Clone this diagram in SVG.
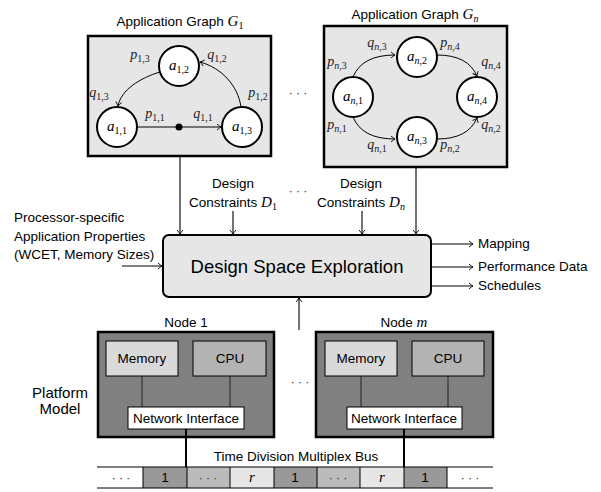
<svg xmlns="http://www.w3.org/2000/svg" width="601" height="492" viewBox="0 0 601 492">
<defs>
<marker id="ah" viewBox="-5 -4 6 8" markerWidth="6" markerHeight="8" refX="0" refY="0" orient="auto" markerUnits="userSpaceOnUse">
<path d="M-4,-3 Q-1.5,-0.8 0,0 Q-1.5,0.8 -4,3" fill="none" stroke="#000" stroke-width="0.9"/>
</marker>
<style>
text{font-family:"Liberation Sans","DejaVu Sans",sans-serif;fill:#000}
.t{font-size:13.5px}
.m{font-family:"Liberation Serif","DejaVu Serif",serif;font-style:italic;font-size:15px}
.s{font-style:normal;font-size:10px}
.si{font-style:italic}
.lbl{font-family:"Liberation Serif","DejaVu Serif",serif;font-style:italic;font-size:14px;fill:#222}
.gbox{fill:#e6e6e6;stroke:#000;stroke-width:2.5}
.circ{fill:#fff;stroke:#000;stroke-width:2}
.edge{fill:none;stroke:#000;stroke-width:1;marker-end:url(#ah)}
.conn{fill:none;stroke:#000;stroke-width:1.1;marker-end:url(#ah)}
.nbox{fill:#808080;stroke:#000;stroke-width:2.5}
.mem{fill:#d9d9d9;stroke:#000;stroke-width:1}
.cpu{fill:#b3b3b3;stroke:#000;stroke-width:1}
.ni{fill:#fff;stroke:#000;stroke-width:1}
.il{stroke:#222;stroke-width:1}
.dots{font-size:12px;fill:#333}
</style>
</defs>

<!-- Application graph G1 -->
<g id="graph1">
<text class="t" x="180" y="26" text-anchor="middle">Application Graph <tspan class="m">G<tspan class="s" dy="3">1</tspan></tspan></text>
<rect class="gbox" x="88" y="36" width="183" height="120"/>
<path class="edge" d="M160,72 C140,78 121,90 118,106"/>
<path class="edge" d="M241,107 C238,86 222,68 200,62"/>
<line x1="137" y1="127" x2="221" y2="127" class="edge"/>
<circle cx="179" cy="127" r="3.5" fill="#000"/>
<g id="a12"><circle class="circ" cx="179" cy="66" r="20"/><text class="m" x="179" y="70" text-anchor="middle">a<tspan class="s" dy="3">1,2</tspan></text></g>
<g id="a11"><circle class="circ" cx="117" cy="127" r="20"/><text class="m" x="117" y="131" text-anchor="middle">a<tspan class="s" dy="3">1,1</tspan></text></g>
<g id="a13"><circle class="circ" cx="242" cy="127" r="20"/><text class="m" x="242" y="131" text-anchor="middle">a<tspan class="s" dy="3">1,3</tspan></text></g>
<text class="lbl" x="140" y="59" text-anchor="middle">p<tspan class="s" dy="3">1,3</tspan></text>
<text class="lbl" x="217" y="59" text-anchor="middle">q<tspan class="s" dy="3">1,2</tspan></text>
<text class="lbl" x="99" y="97" text-anchor="middle">q<tspan class="s" dy="3">1,3</tspan></text>
<text class="lbl" x="258" y="97" text-anchor="middle">p<tspan class="s" dy="3">1,2</tspan></text>
<text class="lbl" x="155" y="118" text-anchor="middle">p<tspan class="s" dy="3">1,1</tspan></text>
<text class="lbl" x="203" y="118" text-anchor="middle">q<tspan class="s" dy="3">1,1</tspan></text>
</g>

<text class="dots" x="298" y="97" text-anchor="middle">· · ·</text>

<!-- Application graph Gn -->
<g id="graphn">
<text class="t" x="415" y="19" text-anchor="middle">Application Graph <tspan class="m">G<tspan class="s si" dy="3">n</tspan></tspan></text>
<rect class="gbox" x="324" y="26" width="183" height="141"/>
<path class="edge" d="M353,77 Q362,55 395,55"/>
<path class="edge" d="M437,55 Q468,55 477,76"/>
<path class="edge" d="M353,117 Q362,139 395,139"/>
<path class="edge" d="M437,139 Q468,139 477,118"/>
<g id="an1"><circle class="circ" cx="353" cy="97" r="20"/><text class="m" x="353" y="101" text-anchor="middle">a<tspan class="s" dy="3"><tspan class="si">n</tspan>,1</tspan></text></g>
<g id="an2"><circle class="circ" cx="417" cy="57" r="20"/><text class="m" x="417" y="61" text-anchor="middle">a<tspan class="s" dy="3"><tspan class="si">n</tspan>,2</tspan></text></g>
<g id="an3"><circle class="circ" cx="417" cy="137" r="20"/><text class="m" x="417" y="141" text-anchor="middle">a<tspan class="s" dy="3"><tspan class="si">n</tspan>,3</tspan></text></g>
<g id="an4"><circle class="circ" cx="477" cy="97" r="20"/><text class="m" x="477" y="101" text-anchor="middle">a<tspan class="s" dy="3"><tspan class="si">n</tspan>,4</tspan></text></g>
<text class="lbl" x="377" y="47" text-anchor="middle">q<tspan class="s" dy="3"><tspan class="si">n</tspan>,3</tspan></text>
<text class="lbl" x="450" y="47" text-anchor="middle">p<tspan class="s" dy="3"><tspan class="si">n</tspan>,4</tspan></text>
<text class="lbl" x="337" y="66" text-anchor="middle">p<tspan class="s" dy="3"><tspan class="si">n</tspan>,3</tspan></text>
<text class="lbl" x="491" y="66" text-anchor="middle">q<tspan class="s" dy="3"><tspan class="si">n</tspan>,4</tspan></text>
<text class="lbl" x="337" y="129" text-anchor="middle">p<tspan class="s" dy="3"><tspan class="si">n</tspan>,1</tspan></text>
<text class="lbl" x="491" y="129" text-anchor="middle">q<tspan class="s" dy="3"><tspan class="si">n</tspan>,2</tspan></text>
<text class="lbl" x="377" y="149" text-anchor="middle">q<tspan class="s" dy="3"><tspan class="si">n</tspan>,1</tspan></text>
<text class="lbl" x="450" y="149" text-anchor="middle">p<tspan class="s" dy="3"><tspan class="si">n</tspan>,2</tspan></text>
</g>

<!-- Inputs -->
<g id="dc1">
<text class="t" x="233" y="188" text-anchor="middle">Design</text>
<text class="t" x="233" y="207" text-anchor="middle">Constraints <tspan class="m">D<tspan class="s" dy="3">1</tspan></tspan></text>
</g>
<text class="dots" x="298" y="195" text-anchor="middle">· · ·</text>
<g id="dcn">
<text class="t" x="361" y="188" text-anchor="middle">Design</text>
<text class="t" x="361" y="207" text-anchor="middle">Constraints <tspan class="m">D<tspan class="s si" dy="3">n</tspan></tspan></text>
</g>
<g id="proc">
<text class="t" x="14" y="222">Processor-specific</text>
<text class="t" x="14" y="240.5">Application Properties</text>
<text class="t" x="14" y="259">(WCET, Memory Sizes)</text>
</g>

<!-- DSE -->
<g id="dse">
<rect x="163" y="235" width="268" height="62" rx="6" fill="#e6e6e6" stroke="#000" stroke-width="2"/>
<text x="297" y="273" text-anchor="middle" font-size="18.5">Design Space Exploration</text>
</g>

<!-- Outputs -->
<g id="outputs">
<text class="t" x="478" y="248">Mapping</text>
<text class="t" x="478" y="271">Performance Data</text>
<text class="t" x="478" y="290">Schedules</text>
</g>

<!-- Platform -->
<text x="60" y="398" text-anchor="middle" font-size="15">Platform</text>
<text x="60" y="414" text-anchor="middle" font-size="15">Model</text>

<g id="node1">
<text class="t" x="186" y="327" text-anchor="middle">Node 1</text>
<rect class="nbox" x="98" y="332" width="176" height="105"/>
<line class="il" x1="142" y1="376" x2="142" y2="407"/>
<line class="il" x1="230" y1="376" x2="230" y2="407"/>
<rect class="mem" x="106" y="341" width="72" height="35"/>
<text class="t" x="142" y="363" text-anchor="middle">Memory</text>
<rect class="cpu" x="193" y="341" width="73" height="35"/>
<text class="t" x="230" y="363" text-anchor="middle">CPU</text>
<rect class="ni" x="128" y="407" width="116" height="22"/>
<text class="t" x="186" y="423" text-anchor="middle">Network Interface</text>
</g>

<text class="dots" x="300" y="386" text-anchor="middle">· · ·</text>

<g id="nodem">
<text class="t" x="404" y="327" text-anchor="middle">Node <tspan class="m">m</tspan></text>
<rect class="nbox" x="316" y="332" width="177" height="105"/>
<line class="il" x1="361" y1="376" x2="361" y2="407"/>
<line class="il" x1="448" y1="376" x2="448" y2="407"/>
<rect class="mem" x="325" y="341" width="72" height="35"/>
<text class="t" x="361" y="363" text-anchor="middle">Memory</text>
<rect class="cpu" x="412" y="341" width="72" height="35"/>
<text class="t" x="448" y="363" text-anchor="middle">CPU</text>
<rect class="ni" x="347" y="407" width="115" height="22"/>
<text class="t" x="404" y="423" text-anchor="middle">Network Interface</text>
</g>

<!-- Bus -->
<g id="bus">
<text class="t" x="296" y="461" text-anchor="middle">Time Division Multiplex Bus</text>
<rect x="99" y="467" width="44" height="21" fill="#fff"/>
<rect x="143" y="467" width="44" height="21" fill="#999"/>
<rect x="187" y="467" width="43" height="21" fill="#bbb"/>
<rect x="230" y="467" width="44" height="21" fill="#e6e6e6"/>
<rect x="274" y="467" width="43" height="21" fill="#999"/>
<rect x="317" y="467" width="43" height="21" fill="#bbb"/>
<rect x="360" y="467" width="44" height="21" fill="#e6e6e6"/>
<rect x="404" y="467" width="43" height="21" fill="#999"/>
<rect x="447" y="467" width="46" height="21" fill="#fff"/>
<line x1="97" y1="467" x2="493" y2="467" stroke="#000" stroke-width="1"/>
<line x1="97" y1="488" x2="493" y2="488" stroke="#000" stroke-width="1"/>
<g stroke="#000" stroke-width="1">
<line x1="143" y1="467" x2="143" y2="488"/><line x1="187" y1="467" x2="187" y2="488"/>
<line x1="230" y1="467" x2="230" y2="488"/><line x1="274" y1="467" x2="274" y2="488"/>
<line x1="317" y1="467" x2="317" y2="488"/><line x1="360" y1="467" x2="360" y2="488"/>
<line x1="404" y1="467" x2="404" y2="488"/><line x1="447" y1="467" x2="447" y2="488"/>
</g>
<text class="dots" x="121" y="482" text-anchor="middle">· · ·</text>
<text class="t" x="165" y="482" text-anchor="middle">1</text>
<text class="dots" x="208" y="482" text-anchor="middle">· · ·</text>
<text class="m" x="252" y="482" text-anchor="middle">r</text>
<text class="t" x="295" y="482" text-anchor="middle">1</text>
<text class="dots" x="338" y="482" text-anchor="middle">· · ·</text>
<text class="m" x="382" y="482" text-anchor="middle">r</text>
<text class="t" x="425" y="482" text-anchor="middle">1</text>
<text class="dots" x="470" y="482" text-anchor="middle">· · ·</text>
</g>

<!-- Connectors -->
<g id="connectors">
<line class="conn" x1="180" y1="156" x2="180" y2="234"/>
<line class="conn" x1="416" y1="167" x2="416" y2="234"/>
<line class="conn" x1="233" y1="211" x2="233" y2="234"/>
<line class="conn" x1="362" y1="211" x2="362" y2="234"/>
<line class="conn" x1="122" y1="266" x2="162" y2="266"/>
<line class="conn" x1="431" y1="244" x2="473" y2="244"/>
<line class="conn" x1="431" y1="267" x2="473" y2="267"/>
<line class="conn" x1="431" y1="286" x2="473" y2="286"/>
<line class="conn" x1="299" y1="330" x2="299" y2="298"/>
<line x1="186" y1="429" x2="186" y2="467" stroke="#000" stroke-width="2"/>
<line x1="404" y1="429" x2="404" y2="467" stroke="#000" stroke-width="2"/>
</g>
</svg>
